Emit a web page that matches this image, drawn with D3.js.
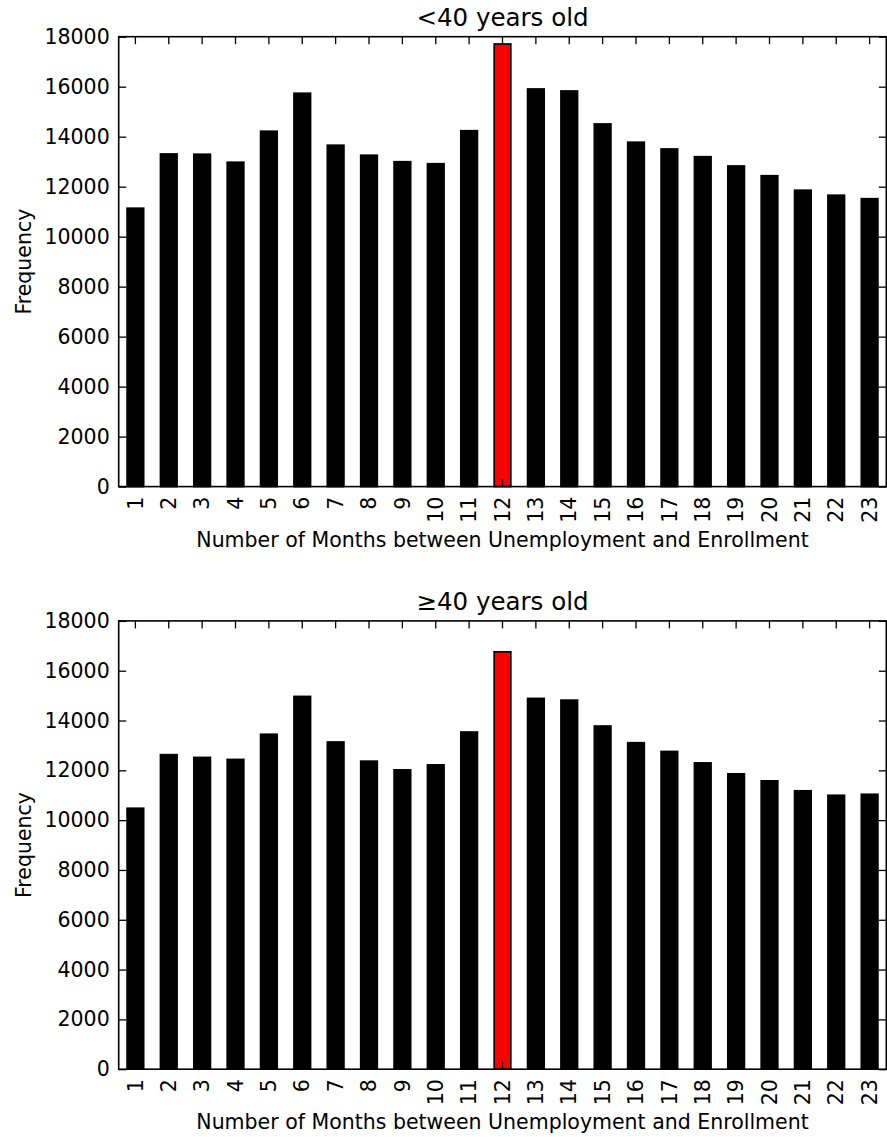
<!DOCTYPE html>
<html>
<head>
<meta charset="utf-8">
<script src="https://cdn.jsdelivr.net/npm/d3@7"></script>
<style>
  html, body { margin: 0; padding: 0; background: #fff; }
  svg { display: block; font-family: "DejaVu Sans", sans-serif; }
</style>
</head>
<body>
<svg id="chart" width="887" height="1137"></svg>
<script>
// Months between unemployment and enrollment
const months = [1, 2, 3, 4, 5, 6, 7, 8, 9, 10, 11, 12, 13, 14, 15, 16, 17, 18, 19, 20, 21, 22, 23];

// Frequencies for enrollees younger than 40
const youngCounts = [11140, 13310, 13300, 12980, 14220, 15740, 13660, 13260, 13000, 12920, 14240, 17710,
                     15910, 15830, 14510, 13780, 13510, 13200, 12830, 12440, 11860, 11660, 11520];

// Frequencies for enrollees aged 40 and over
const olderCounts = [10480, 12630, 12520, 12440, 13450, 14970, 13140, 12370, 12020, 12220, 13540, 16760,
                     14890, 14820, 13780, 13110, 12760, 12300, 11860, 11580, 11180, 11000, 11040];

const yTicks = [0, 2000, 4000, 6000, 8000, 10000, 12000, 14000, 16000, 18000];
const highlightMonth = 12;

const titles = ["<40 years old", "\u226540 years old"];
const xLabel = "Number of Months between Unemployment and Enrollment";
const yLabel = "Frequency";

const svg = d3.select("#chart");

const left = 118.7, right = 886.3;
const tickLen = 7.5;
const fontSize = 20.5;

const panels = [
  { values: youngCounts, title: titles[0], top: 36.7, bottom: 486.6 },
  { values: olderCounts, title: titles[1], top: 620.9, bottom: 1069.2 }
];

panels.forEach(p => {
  const g = svg.append("g");

  const x = d3.scaleBand().domain(months).range([left, right]).paddingInner(0).paddingOuter(0);
  const y = d3.scaleLinear().domain([0, 18000]).range([p.bottom, p.top]);
  const barW = x.bandwidth() * 0.5;

  // bars
  g.selectAll("rect.bar")
    .data(months.map((m, i) => ({ m, v: p.values[i] })))
    .join("rect")
    .attr("class", "bar")
    .attr("x", d => x(d.m) + x.bandwidth() / 2 - barW / 2)
    .attr("width", barW)
    .attr("y", d => y(d.v))
    .attr("height", d => y(0) - y(d.v))
    .attr("fill", d => d.m === highlightMonth ? "#ff0000" : "#000000")
    .attr("stroke", "#000")
    .attr("stroke-width", 1.6);

  // left axis (ticks point inward)
  const yAxisL = d3.axisLeft(y).tickValues(yTicks).tickSize(-tickLen).tickPadding(9).tickFormat(d3.format("d"));
  const gl = g.append("g").attr("transform", `translate(${left},0)`).call(yAxisL);

  // right axis mirrors ticks, no labels
  const yAxisR = d3.axisRight(y).tickValues(yTicks).tickSize(-tickLen).tickFormat("");
  const gr = g.append("g").attr("transform", `translate(${right},0)`).call(yAxisR);

  // bottom axis with rotated month labels
  const xAxisB = d3.axisBottom(x).tickSize(-tickLen).tickPadding(0);
  const gb = g.append("g").attr("transform", `translate(0,${p.bottom})`).call(xAxisB);
  gb.selectAll(".tick text")
    .attr("text-anchor", "end")
    .attr("transform", "translate(0,10) rotate(-90)")
    .attr("x", 0).attr("y", 0).attr("dy", "0.35em");

  // top axis mirrors ticks
  const xAxisT = d3.axisTop(x).tickSize(-tickLen).tickFormat("");
  const gt = g.append("g").attr("transform", `translate(0,${p.top})`).call(xAxisT);

  [gl, gr, gb, gt].forEach(a => {
    a.select(".domain").remove();
    a.selectAll(".tick line").attr("stroke", "#000").attr("stroke-width", 1.3);
    a.selectAll(".tick text").attr("fill", "#000").style("font-size", fontSize + "px").style("font-family", "DejaVu Sans");
  });

  // frame
  g.append("rect")
    .attr("x", left).attr("y", p.top)
    .attr("width", right - left).attr("height", p.bottom - p.top)
    .attr("fill", "none").attr("stroke", "#000").attr("stroke-width", 1.6);

  // title
  g.append("text")
    .attr("x", (left + right) / 2).attr("y", p.top - 11)
    .attr("text-anchor", "middle")
    .style("font-size", "24.5px")
    .text(p.title);

  // x label
  g.append("text")
    .attr("x", (left + right) / 2).attr("y", p.bottom + 60)
    .attr("text-anchor", "middle")
    .style("font-size", fontSize + "px")
    .text(xLabel);

  // y label
  g.append("text")
    .attr("transform", `translate(31,${(p.top + p.bottom) / 2}) rotate(-90)`)
    .attr("text-anchor", "middle")
    .style("font-size", fontSize + "px")
    .text(yLabel);
});
</script>
</body>
</html>
